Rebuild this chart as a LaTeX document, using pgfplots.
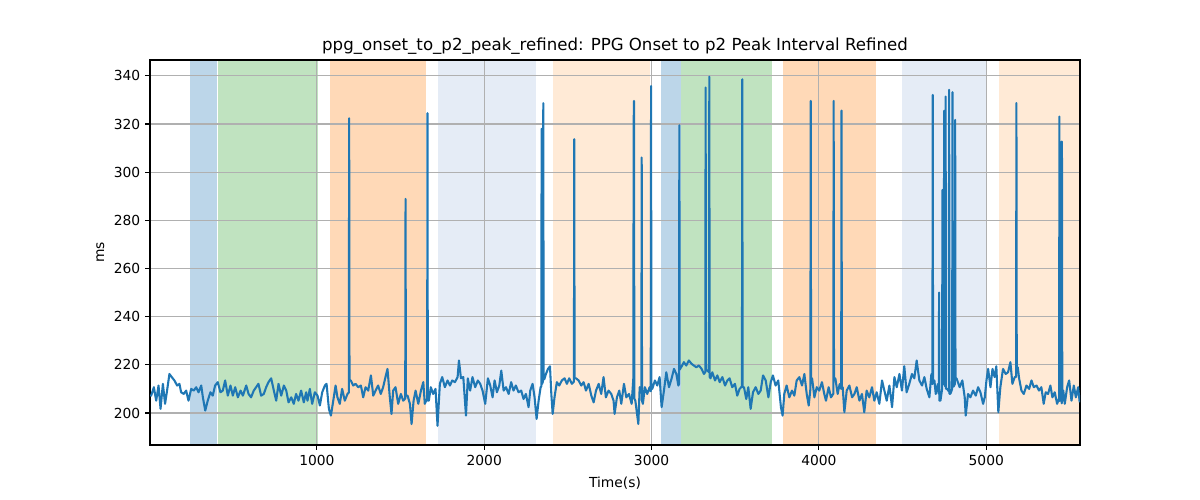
\documentclass[border=0pt]{standalone}
\usepackage{fontspec}
\setmainfont{DejaVu Sans}
\usepackage{pgfplots}
\pgfplotsset{compat=1.18}
\definecolor{czero}{RGB}{31,119,180}
\definecolor{spanblue}{RGB}{188,214,233}
\definecolor{spangreen}{RGB}{192,227,192}
\definecolor{spanorange}{RGB}{255,217,183}
\definecolor{spanlblue}{RGB}{229,236,246}
\definecolor{spanlorange}{RGB}{255,234,214}
\definecolor{gridgray}{RGB}{176,176,176}
\begin{document}
\begin{tikzpicture}
\begin{axis}[
  set layers,
  clip mode=individual,
  at={(1.5in,0.55in)}, anchor=south west,
  width=9.3in, height=3.85in, scale only axis,
  xmin=3, xmax=5560, ymin=186.7, ymax=346.6,
  xtick={1000,2000,3000,4000,5000},
  ytick={200,220,240,260,280,300,320,340},
  scaled ticks=false,
  /pgf/number format/assume math mode=true,
  xticklabel style={/pgf/number format/1000 sep={}},
  grid=major,
  major grid style={color=gridgray, line width=0.8pt},
  axis line style={line width=0.8pt, black},
  tick style={line width=0.8pt, black},
  tick align=outside, major tick length=3.5pt,
  tick pos=left,
  ticklabel style={font=\fontsize{10}{12}\selectfont},
  title={ppg\_onset\_to\_p2\_peak\_refined: PPG Onset to p2 Peak Interval Refined},
  title style={font=\fontsize{12}{14.4}\selectfont, yshift=-5.5pt},
  xlabel={Time(s)}, ylabel={ms},
  xlabel style={yshift=-1.5pt},
  label style={font=\fontsize{10}{12}\selectfont},
]
\addplot[fill=spanblue, draw=none, forget plot, on layer=axis background] coordinates {(241,180) (406,180) (406,350) (241,350)};
\addplot[fill=spangreen, draw=none, forget plot, on layer=axis background] coordinates {(408,180) (1008,180) (1008,350) (408,350)};
\addplot[fill=spanorange, draw=none, forget plot, on layer=axis background] coordinates {(1078,180) (1650,180) (1650,350) (1078,350)};
\addplot[fill=spanlblue, draw=none, forget plot, on layer=axis background] coordinates {(1721,180) (2309,180) (2309,350) (1721,350)};
\addplot[fill=spanlorange, draw=none, forget plot, on layer=axis background] coordinates {(2413,180) (2990,180) (2990,350) (2413,350)};
\addplot[fill=spanblue, draw=none, forget plot, on layer=axis background] coordinates {(3056,180) (3176,180) (3176,350) (3056,350)};
\addplot[fill=spangreen, draw=none, forget plot, on layer=axis background] coordinates {(3177,180) (3718,180) (3718,350) (3177,350)};
\addplot[fill=spanorange, draw=none, forget plot, on layer=axis background] coordinates {(3784,180) (4339,180) (4339,350) (3784,350)};
\addplot[fill=spanlblue, draw=none, forget plot, on layer=axis background] coordinates {(4497,180) (5007,180) (5007,350) (4497,350)};
\addplot[fill=spanlorange, draw=none, forget plot, on layer=axis background] coordinates {(5077,180) (5600,180) (5600,350) (5077,350)};
\addplot[color=czero, line width=1.5pt, line join=round, mark=none] coordinates {
(4,207.5) (10,207.2) (26,210.7) (40,205.1) (54,211.4) (66,201.7) (80,212.1) (93,203.8) (105,209.3) (119,216.2)
(133,214.9) (149,213.5) (165,211.4) (179,212.1) (189,208.6) (205,207.9) (219,209.3) (233,205.1) (249,210) (265,209.3)
(279,210.7) (293,208.6) (309,211.4) (319,206.5) (333,201) (348,205.1) (364,208.6) (378,207.2) (392,211.4) (408,212.8)
(424,208.6) (438,209.3) (452,213.5) (468,207.2) (484,211.4) (498,207.2) (512,210.7) (528,206.5) (544,209.3) (558,207.2)
(578,211.4) (592,207.9) (607,206.5) (623,209.3) (637,210.7) (651,212.1) (667,207.2) (683,207.9) (697,210.7) (711,212.8)
(727,214.4) (743,209.3) (757,205.1) (771,212.1) (787,207.2) (803,211.4) (817,209.3) (831,204.4) (847,206.5) (862,203.8)
(876,207.9) (890,205.1) (906,209.3) (922,204.4) (936,208.6)
(944,205.1) (958,210) (972,203.8) (988,208.6) (1004,207.2) (1018,203.1) (1032,208.6) (1048,211.4) (1058,212.1) (1072,201.7)
(1084,198.9) (1098,205.1) (1112,211.4) (1123,206.5) (1137,203.8) (1151,210) (1167,205.1) (1183,207.9) (1191,208.5) (1193,322.4) (1195,213.5) (1203,213.5)
(1217,211.4) (1231,212.1) (1247,210.7) (1263,211.4) (1277,206.5) (1291,210.7) (1307,209.3) (1323,215.6) (1337,207.2) (1351,209.3)
(1366,211.4) (1382,207.9) (1396,210.7) (1410,214.9) (1422,218.3) (1436,206.5) (1446,199.6) (1456,209.3) (1470,210.7) (1486,203.8)
(1502,207.9) (1516,205.1) (1528,206) (1530,288.9) (1532,207.2) (1542,207.2) (1556,203.8) (1566,195.4) (1578,205.1) (1590,209.3) (1606,203.8) (1622,209.3)
(1636,212.8) (1645,203.8) (1659,206) (1661,324.5) (1663,205.1) (1669,205.1) (1681,210.7) (1695,207.9) (1709,210) (1721,194.7) (1735,212.1) (1749,214.9)
(1765,210.7) (1781,213.5) (1795,211.4) (1809,213.5) (1825,212.8) (1841,214.9) (1849,221.8) (1861,214.4) (1875,214.9)
(1891,198.9) (1902,214.4) (1916,209.3) (1930,214.9) (1946,210.7) (1962,213.5) (1976,212.1) (1990,209.3) (2006,203.8) (2022,214.4)
(2036,211.4) (2050,206.5) (2062,213.5) (2076,208.6) (2090,211.4) (2102,217.6) (2116,209.3) (2130,210.7) (2146,207.9) (2161,212.8)
(2175,209.3) (2189,211.4) (2205,208.6) (2221,209.3) (2235,205.8) (2249,207.9) (2265,202.4) (2275,209.3) (2289,212.1) (2301,206.5)
(2313,197.5) (2325,205.1) (2337,210.7) (2341,211) (2343,318) (2345,212) (2351,213) (2353,328.7) (2355,214) (2359,214) (2369,216.2) (2381,218.3) (2393,219.4)
(2401,207.9) (2409,199.6) (2420,206.5) (2434,212.8) (2448,211.4) (2464,213.5) (2480,214.4) (2494,212.1) (2508,214.4) (2524,212.1)
(2536,213) (2538,313.7) (2540,214.4) (2548,214.4) (2564,213.5) (2580,211.4) (2594,212.8) (2608,209.3) (2624,212.1) (2640,207.2) (2654,204.4) (2668,209.3)
(2684,212.1) (2699,207.9) (2713,214.9) (2727,206.5) (2743,209.3) (2759,207.9) (2773,205.1) (2779,199.6) (2793,206.5) (2807,209.3)
(2819,203.8)
(2835,212.1) (2849,206.5) (2865,207.9) (2881,203.8) (2891,214.4) (2893,320.5) (2895,329.6) (2897,206) (2903,205.1) (2921,195.4) (2929,210.7)
(2939,209) (2941,306.1) (2943,205) (2948,203.8) (2960,210.7) (2974,207.9) (2988,210.7) (2995,209) (2997,335.8) (2999,210) (3004,210) (3020,213.5) (3034,211.4) (3048,214.9)
(3060,202.4) (3074,209.3) (3088,216.9) (3104,210.7) (3120,214.4) (3134,218.3) (3148,216.2) (3160,211.4) (3164,212) (3166,319.5) (3168,218) (3180,219.4)
(3193,221.1) (3207,219.7) (3223,221.8) (3239,220.4) (3253,219.7) (3267,219) (3283,219.7) (3299,218.3) (3313,216.2) (3321,217) (3323,335.2) (3325,218)
(3333,217.6) (3343,217) (3345,339.7) (3347,215) (3352,214.4) (3363,216.9) (3379,213.5) (3393,215.6) (3407,212.8) (3423,214.9) (3439,211.4) (3453,213.5)
(3466,214.4) (3482,210.7) (3498,212.1) (3512,207.2) (3526,210) (3540,211) (3542,338.6) (3544,210.7) (3552,210.7) (3566,205.8) (3578,210.7) (3592,201.7)
(3606,208.6) (3622,210.7) (3638,207.9) (3652,209.3) (3666,215.6) (3682,213.5) (3698,206.5) (3712,212.8) (3725,215.6) (3741,211.4)
(3757,213.5)
(3773,202.4) (3783,198.9) (3793,207.9) (3807,211.4) (3823,206.5) (3839,209.3) (3853,207.2) (3867,213.5) (3883,214.9) (3899,211.4)
(3913,216.2) (3927,207.9) (3939,203.1) (3949,210) (3951,329.6) (3953,214.4) (3959,214.4) (3973,206.5) (3987,210.7) (4002,209.3) (4018,212.8) (4032,207.9)
(4042,205.1) (4058,210.7) (4072,206.5) (4086,208) (4088,329.6) (4090,214.4) (4098,214.4) (4112,207.9) (4124,212) (4133,210) (4135,325.6) (4137,210.7) (4142,210.7) (4152,200.3)
(4166,209.3) (4182,211.4) (4198,206.5) (4212,207.9) (4226,210.7) (4242,205.1) (4257,207.9) (4271,200.3) (4285,209.3) (4301,206.5)
(4317,210.7) (4331,205.1) (4345,208.6) (4361,203.8) (4377,213.5) (4391,209.3) (4405,205.1) (4421,211.4) (4437,202.4) (4451,214.9)
(4465,210.7) (4481,216.2) (4496,209.3) (4510,219.4) (4524,208.6) (4540,212.1) (4556,216.2) (4570,214.4) (4584,221.8) (4600,213.5)
(4616,211.4) (4630,214.9) (4644,210) (4660,206.5) (4672,216.2) (4678,212) (4680,332.1) (4682,213.5) (4690,213.5) (4698,207.9) (4710,212)
(4716,208) (4718,250) (4720,205.1) (4726,205.1) (4736,210) (4738,292.6) (4740,214) (4746,212) (4748,325.5) (4750,212) (4755,211) (4757,331.4) (4759,210) (4765,210)
(4776,209) (4778,334.2) (4780,208) (4786,208) (4796,210) (4798,333.2) (4800,211) (4805,211) (4812,212) (4814,321.7) (4816,214.4) (4822,214.4)
(4841,210.7) (4857,213.5) (4871,206.5) (4877,198.9) (4891,207.9) (4905,206.5) (4921,209.3) (4937,207.2) (4951,210.7) (4965,208.6)
(4981,203.8) (4991,206.5) (5001,213.5) (5011,218.3) (5025,210.7) (5037,218.3) (5050,214.9) (5060,219.4) (5072,200.3) (5084,210.7)
(5100,218.3) (5116,216.2) (5130,216.9) (5144,221.1) (5156,212.1) (5170,214.9) (5178,215) (5180,328.7) (5182,219) (5188,219) (5196,214.4) (5210,209.3)
(5224,207.9) (5240,211.4) (5256,210) (5270,213.5) (5284,210.7) (5300,211.4) (5315,209.3) (5329,210.7) (5343,203.8) (5355,208.6)
(5369,207.9) (5383,211.4) (5395,206.5) (5409,208.6) (5423,203.8) (5435,206) (5437,323.1) (5439,205) (5447,206) (5449,312.7) (5451,204) (5452,312.7) (5454,205)
(5460,209.3) (5469,203.8) (5483,210.7) (5495,213.5) (5509,205.1) (5523,211.4) (5535,206.5) (5549,210.7) (5558,204.4)
};
\end{axis}
\path (0,0) rectangle (12in,5in);
\end{tikzpicture}
\end{document}
